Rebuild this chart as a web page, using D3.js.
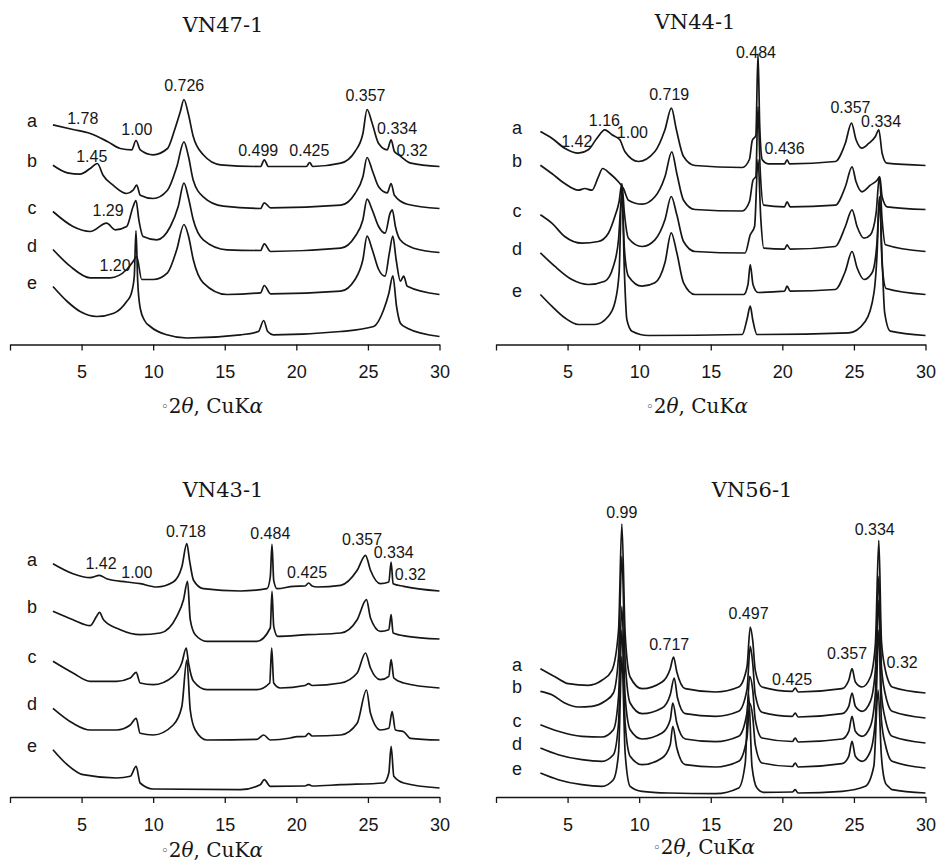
<!DOCTYPE html>
<html>
<head>
<meta charset="utf-8">
<script src="https://cdn.jsdelivr.net/npm/d3@7/dist/d3.min.js"></script>
<style>
  html, body { margin: 0; padding: 0; background: #fff; }
  svg { display: block; }
</style>
</head>
<body>
<svg id="chart" width="938" height="865"></svg>
<script>
// ---------------- DATA (2θ in degrees, intensity in arbitrary units above each trace's baseline) ----------------
const xTicks = [0, 5, 10, 15, 20, 25, 30];
const rowNames = ["a", "b", "c", "d", "e"];
const panelTitles = ["VN47-1", "VN44-1", "VN43-1", "VN56-1"];

// vertical offsets of traces a..e (stacking)
const offsets47 = [178, 136, 92, 50, 8];
const offsets44 = [179, 135, 93, 50, 9];
const offsets43 = [206, 158, 109, 57, 9];
const offsets56 = [104, 79, 54, 29, 4];

// ---- VN47-1 ----
const vn47_a = [[3.0,41.7],[4.4,37],[5.6,33],[6.8,25],[7.7,18],[8.5,16.7],[8.8,26],[9.1,16.7],[10.0,11.7],[11.0,18],[11.5,36.7],[11.9,55],[12.15,67],[12.45,53],[12.8,30],[13.5,11.7],[14.7,1.7],[17.5,0],[17.76,6.7],[18.05,0],[20.7,0],[20.93,4],[21.15,0],[23.1,3.3],[24.1,15],[24.65,33],[24.94,57],[25.3,43],[25.75,23],[26.35,16.7],[26.62,26.7],[26.85,15],[27.15,11.7],[28.0,3.3],[30,0]];
const vn47_b = [[3.0,43.3],[4.0,35.7],[4.9,34.3],[5.6,40],[6.1,45],[6.5,33.3],[7.2,23.3],[8.15,15],[8.6,18.3],[8.85,23.3],[9.1,13.3],[10.0,10],[11.0,18.3],[11.65,41.7],[12.15,66.7],[12.47,51.7],[12.8,28.3],[13.5,11.7],[14.9,2.3],[17.5,0],[17.76,5.7],[18.2,0.7],[23.1,3.3],[24.1,15],[24.65,31.7],[24.94,51],[25.3,38.3],[25.75,21.7],[26.35,15.7],[26.62,25],[26.85,13.3],[27.75,4.3],[30,0]];
const vn47_c = [[3.0,41],[4.4,26],[5.6,21],[6.75,29.3],[7.35,22.7],[8.15,26],[8.6,46],[8.8,52],[9.0,32.7],[9.3,16],[10.25,12.7],[11.2,26],[11.75,46],[12.15,69.3],[12.47,54.3],[12.8,32.7],[13.5,12.7],[15.15,2.7],[17.5,2],[17.76,8.7],[18.2,1],[23.1,4.3],[24.1,16],[24.65,32.7],[24.94,53.3],[25.3,42.7],[25.75,26],[26.2,19.3],[26.55,39.3],[26.7,42.7],[26.92,26],[27.25,12.7],[28.2,4.3],[30,0]];
const vn47_d = [[3.0,45],[4.2,28.3],[5.6,16.7],[7.0,16.7],[8.15,25],[8.6,33],[8.85,38],[9.2,15],[10.0,15],[11.0,21.7],[11.65,45],[12.15,70],[12.47,58.3],[12.8,35],[13.5,11.7],[15.15,0],[17.5,1.7],[17.76,9],[18.2,0.7],[23.1,3.3],[24.1,15],[24.65,35],[24.94,58.3],[25.3,45],[25.75,25],[26.2,18.3],[26.5,41.7],[26.74,58.3],[26.97,35],[27.27,13.3],[27.5,18.3],[27.75,8.3],[30,0]];
const vn47_e = [[3.0,50],[4.0,35],[4.9,25],[6.05,20],[7.25,23.3],[8.15,35],[8.45,42],[8.68,60],[8.8,106],[8.92,55],[9.1,28],[9.4,16],[9.8,10],[10.95,1.7],[12.35,-1.5],[16.1,1.7],[17.35,5],[17.72,16],[18.0,5],[18.4,1.7],[23.1,5],[25.4,10],[26.1,26.7],[26.46,43],[26.74,60.7],[27.0,30],[27.27,13.3],[27.75,8.3],[30,0]];

// ---- VN44-1 ----
const vn44_a = [[3.1,34],[3.9,27.3],[4.8,17.3],[5.75,12.3],[6.45,15.7],[7.05,27.3],[7.6,35.7],[8.1,30.7],[8.65,25.7],[9.0,14],[9.95,4],[11.1,14],[11.8,35.7],[12.25,57.3],[12.6,35.7],[13.1,9],[13.9,0],[17.2,-2],[17.7,6],[17.9,25],[18.15,30],[18.3,112],[18.42,40],[18.6,5.7],[19.0,1.7],[20.15,1.7],[20.33,5.7],[20.5,1.7],[23.7,4],[24.4,22.3],[24.83,42.3],[25.15,25.7],[25.55,17.3],[26.05,22.3],[26.5,29],[26.74,35.7],[26.97,12.3],[27.3,2.3],[30,0]];
const vn44_b = [[3.1,44.3],[3.9,36],[4.8,26],[5.75,19.3],[6.2,21],[6.7,19.3],[7.15,32.7],[7.45,41],[7.95,36],[8.55,27.7],[8.9,21],[9.25,9.3],[10.2,5.3],[11.1,12.7],[11.8,32.7],[12.28,57.7],[12.63,36],[13.1,9.3],[13.9,0],[17.2,-1.5],[17.7,7.7],[17.95,29.3],[18.15,33],[18.3,102.7],[18.45,40],[18.7,4.3],[20.15,2.7],[20.33,7.7],[20.55,2.7],[23.7,4.3],[24.4,22.7],[24.87,42.7],[25.15,27.7],[25.57,17.7],[26.15,24.3],[26.62,29.3],[26.81,32.7],[26.97,12.7],[27.32,2.7],[30,0]];
const vn44_c = [[3.1,36.7],[3.9,28.3],[4.8,15],[6.0,8.3],[7.15,10],[7.85,18.3],[8.3,35],[8.6,50],[8.79,68],[8.97,38],[9.25,13.3],[10.2,5],[11.1,11.7],[11.8,31.7],[12.24,55],[12.63,36.7],[13.1,10],[13.9,0],[17.4,-1.5],[17.76,16.7],[18.06,25],[18.3,92],[18.5,31.7],[18.7,3.3],[20.15,2.3],[20.33,6.7],[20.55,2.3],[23.7,5],[24.4,25],[24.87,41.7],[25.22,25],[25.7,13.3],[26.15,16.7],[26.55,38.3],[26.78,75],[26.97,31.7],[27.2,6.7],[30,0]];
const vn44_d = [[3.1,41.7],[4.1,28.3],[5.3,15],[6.45,10],[7.6,13.3],[8.2,28.3],[8.56,55],[8.79,100],[8.97,45],[9.25,18.3],[10.2,8.3],[11.1,11.7],[11.8,31.7],[12.24,61.7],[12.63,41.7],[13.1,11.7],[13.9,0],[17.3,0],[17.6,10],[17.76,30],[17.95,10],[18.3,2],[20.15,3.3],[20.33,8.3],[20.55,3.3],[23.7,5],[24.4,23.3],[24.87,43],[25.22,26.7],[25.7,15],[26.27,21.7],[26.6,50],[26.8,97],[26.97,30],[27.25,6],[30,0]];
const vn44_e = [[3.1,41],[3.9,29.3],[4.8,17.7],[5.75,11],[6.9,11],[7.85,19.3],[8.3,32.7],[8.6,62.7],[8.79,150],[8.97,62.7],[9.14,16],[9.5,4.3],[10.65,0],[17.2,1],[17.53,16],[17.76,29.3],[17.93,16],[18.23,1],[24.65,2.7],[25.8,14.3],[26.4,42.7],[26.62,82.7],[26.78,139],[26.97,76],[27.15,22.7],[27.55,4.3],[30,0]];

// ---- VN43-1 ----
const vn43_a = [[3.0,27.3],[4.4,17.3],[5.6,13.3],[6.25,15.7],[6.75,12.3],[8.15,9],[9.1,7.3],[10.25,4],[11.4,9],[12.0,24],[12.35,47.3],[12.54,30.7],[12.82,10.7],[13.5,2.3],[16.1,0],[17.95,2.3],[18.18,14],[18.3,46.7],[18.42,10.7],[18.65,2.3],[19.8,4.7],[20.6,5],[20.86,8],[21.1,5],[21.45,4],[23.1,5.7],[24.25,20.7],[24.83,35.7],[25.18,20.7],[25.87,7.3],[26.46,9],[26.62,29],[26.76,7.3],[27.5,4.7],[30,0]];
const vn43_b = [[3.0,27.7],[4.4,19.3],[5.6,13.3],[6.05,22.7],[6.25,26.7],[6.53,19.3],[7.7,9.3],[9.1,4.3],[10.5,6],[11.65,22.7],[12.12,39.3],[12.4,57.7],[12.59,19.3],[12.94,4.3],[13.75,-2.3],[17.25,-2.3],[18.18,11],[18.3,47.7],[18.42,12.7],[18.7,2.7],[20.75,4.3],[23.1,6],[24.25,19.3],[24.9,39.3],[25.18,21],[25.87,7.7],[26.46,9.3],[26.62,24.3],[26.76,6],[27.75,2.7],[30,0]];
const vn43_c = [[3.0,26.7],[4.4,15],[5.6,6.7],[7.45,6.7],[8.4,10],[8.81,15.7],[9.09,5],[10.0,3.3],[11.4,11.7],[12.0,25],[12.31,40],[12.47,25],[12.82,6.7],[13.75,-1.7],[17.25,-1.7],[18.14,5],[18.28,40],[18.42,5],[18.88,0],[20.6,2.5],[20.86,4.3],[21.1,2.5],[23.1,5],[24.25,15],[24.83,35],[25.18,20],[25.87,8.3],[26.46,11.7],[26.62,28.3],[26.81,10],[27.5,5],[30,0]];
const vn43_d = [[3.0,31.7],[4.4,16.7],[5.6,10],[7.45,10],[8.4,15],[8.81,21.7],[9.09,6.7],[10.0,5],[11.4,15],[12.0,33.3],[12.35,80],[12.59,30],[12.94,10],[13.75,0],[17.25,0.7],[17.72,5],[18.18,0],[19.6,2],[20.05,3.3],[20.6,3.5],[20.86,6.7],[21.1,4],[23.1,5],[24.25,16.7],[24.9,50],[25.18,26.7],[25.87,10],[26.46,11.7],[26.69,28.3],[26.92,10],[27.5,8.3],[27.97,1.7],[30,0]];
const vn43_e = [[3.0,38.3],[4.0,23.3],[5.1,13.3],[7.45,10],[8.4,11.7],[8.81,21.7],[9.09,5],[10.0,-1],[16.1,-1.7],[17.48,3.3],[17.76,8.3],[18.18,1.7],[20.6,2],[20.86,3.3],[21.1,2],[23.1,3.3],[26.1,5],[26.46,15],[26.62,41.7],[26.81,11.7],[27.5,5],[30,0]];

// ---- VN56-1 ----
const vn56_a = [[3.1,24.3],[4.15,16],[5.05,9.3],[6.45,7.7],[7.4,12.7],[8.1,22.7],[8.56,62.7],[8.79,169],[9.02,59.3],[9.37,16],[10.2,4.3],[11.6,11],[12.17,24.3],[12.4,36],[12.63,21],[13.22,4.3],[15.33,1],[16.95,6],[17.53,26],[17.76,66],[17.93,52.7],[18.11,22.7],[18.58,6],[20.7,1.7],[20.9,5],[21.1,1],[24.17,4.3],[24.64,12.7],[24.87,24.3],[25.1,11],[25.57,6],[26.15,16],[26.5,49.3],[26.74,152.7],[26.92,52.7],[27.2,22.7],[27.39,12.7],[27.67,6],[30,0]];
const vn56_b = [[3.1,26.7],[3.9,23.3],[4.8,15],[5.75,11],[6.7,11.7],[7.6,16.7],[8.2,25],[8.56,61.7],[8.79,161.7],[9.02,58.3],[9.37,15],[10.2,4.3],[11.6,10],[12.17,23.3],[12.45,40],[12.68,20],[13.22,4.3],[15.33,1.7],[16.95,6.7],[17.53,28.3],[17.76,71.7],[17.93,55],[18.11,23.3],[18.58,5.7],[20.7,1.7],[20.9,5],[21.1,1],[24.17,4.3],[24.64,11.7],[24.87,25],[25.1,11.7],[25.57,6.7],[26.15,16.7],[26.5,48.3],[26.74,141.7],[26.92,51.7],[27.2,23.3],[27.39,13.3],[27.67,6.7],[30,0]];
const vn56_c = [[3.1,18.3],[4.35,11.7],[6.0,6.7],[7.4,6],[8.2,13.3],[8.56,46.7],[8.79,136.7],[9.02,46.7],[9.37,13.3],[10.2,4],[11.6,10],[12.17,23.3],[12.35,40],[12.63,20],[13.22,4],[15.33,1.3],[16.95,6.7],[17.53,30],[17.72,66.7],[17.93,53.3],[18.11,23.3],[18.58,5],[20.7,1.5],[20.9,5],[21.1,1],[24.17,4],[24.64,11.7],[24.87,26.7],[25.1,11.7],[25.57,6.7],[26.15,16.7],[26.5,50],[26.74,143],[26.92,50],[27.2,23.3],[27.39,13.3],[27.67,6.7],[30,0]];
const vn56_d = [[3.1,20],[4.35,13.3],[6.0,8.3],[7.4,6.7],[8.2,13.3],[8.56,45],[8.79,138],[9.02,45],[9.37,11.7],[10.2,3.3],[11.6,10],[12.17,23.3],[12.35,41.7],[12.63,20],[13.22,3.3],[15.33,1],[16.95,6.7],[17.53,30],[17.72,65],[17.93,51.7],[18.11,23.3],[18.58,5],[20.7,1.5],[20.9,5],[21.1,1],[24.17,4.3],[24.64,11.7],[24.87,26.7],[25.1,11.7],[25.57,6.7],[26.15,16.7],[26.5,48.3],[26.74,138],[26.92,48.3],[27.2,23.3],[27.39,13.3],[27.67,6.7],[30,0]];
const vn56_e = [[3.1,20],[4.35,13.3],[6.0,8.3],[7.4,6.7],[8.2,13.3],[8.56,40],[8.79,136.7],[9.02,40],[9.37,6.7],[10.2,1.7],[12.05,0],[15.33,-0.7],[16.95,5],[17.41,30],[17.64,100],[17.88,26.7],[18.23,5],[18.7,0.7],[20.7,1],[20.9,3.3],[21.1,0],[24.17,1.7],[25.8,6.7],[26.39,26.7],[26.69,103],[26.92,36.7],[27.2,10],[27.39,6.7],[27.67,3.3],[30,0]];

// peak annotations: [text, 2θ, height above axis]
const labels47 = [["0.726",12.17,259.5],["0.357",24.83,249.5],["1.78",5.08,226.2],["1.00",8.86,215.2],["0.334",27.04,216.2],["0.499",17.34,194.5],["0.425",20.91,194.5],["0.32",28.09,194.5],["1.45",5.71,187.8],["1.29",6.85,134.5],["1.20",7.34,79.5]];
const labels44 = [["0.484",18.16,292.2],["0.719",12.1,250.5],["0.357",24.76,237.2],["0.334",26.9,223.5],["1.16",7.57,224.5],["1.00",9.53,212.2],["1.42",5.64,202.8],["0.436",20.16,196.2]];
const labels43 = [["0.718",12.29,266],["0.484",18.18,263.7],["0.357",24.59,257.7],["0.334",26.8,244.3],["1.42",6.36,233.7],["1.00",8.86,224.3],["0.425",20.75,224.3],["0.32",27.97,223]];
const labels56 = [["0.99",8.79,284.3],["0.334",26.45,267.7],["0.497",17.64,183.7],["0.717",12.1,153],["0.357",24.52,143.7],["0.32",28.37,134.3],["0.425",20.68,117.7]];

// ---------------- LAYOUT ----------------
const panels = [
  { title: panelTitles[0], traces: [vn47_a, vn47_b, vn47_c, vn47_d, vn47_e], offsets: offsets47, labels: labels47,
    x0: 10, axisY: 344.5, tx: 223, ty: 25, ax: 212, ay: 406, rowX: 32 },
  { title: panelTitles[1], traces: [vn44_a, vn44_b, vn44_c, vn44_d, vn44_e], offsets: offsets44, labels: labels44,
    x0: 496, axisY: 344.5, tx: 695, ty: 22, ax: 697, ay: 406, rowX: 517 },
  { title: panelTitles[2], traces: [vn43_a, vn43_b, vn43_c, vn43_d, vn43_e], offsets: offsets43, labels: labels43,
    x0: 10, axisY: 797, tx: 223, ty: 490, ax: 212, ay: 850, rowX: 32 },
  { title: panelTitles[3], traces: [vn56_a, vn56_b, vn56_c, vn56_d, vn56_e], offsets: offsets56, labels: labels56,
    x0: 496, axisY: 797, tx: 752, ty: 490, ax: 704, ay: 847, rowX: 517 }
];

const svg = d3.select("#chart");
const sans = "'Liberation Sans', Arial, sans-serif";
const serif = "'DejaVu Serif', 'Liberation Serif', serif";
const ink = "#161616";

panels.forEach(p => {
  const g = svg.append("g");
  const x = d3.scaleLinear().domain([0, 30]).range([p.x0, p.x0 + 429.5]);
  const y = d3.scaleLinear().domain([0, 300]).range([p.axisY, p.axisY - 300]);

  // traces
  p.traces.forEach((tr, i) => {
    const off = p.offsets[i];
    const line = d3.line()
      .x(d => x(d[0]))
      .y(d => y(d[1] + off))
      .curve(d3.curveMonotoneX);
    g.append("path")
      .datum(tr)
      .attr("d", line)
      .attr("fill", "none")
      .attr("stroke", ink)
      .attr("stroke-width", 1.7)
      .attr("stroke-linejoin", "round");

    // row label a..e, placed next to the start of the trace
    g.append("text")
      .attr("x", p.rowX)
      .attr("y", y(tr[0][1] + off) - 4)
      .attr("text-anchor", "middle")
      .attr("dominant-baseline", "central")
      .attr("font-family", sans)
      .attr("font-size", 18)
      .attr("fill", ink)
      .text(rowNames[i]);
  });

  // axis
  const axis = d3.axisBottom(x)
    .tickValues(xTicks)
    .tickSize(6)
    .tickSizeOuter(0)
    .tickPadding(15)
    .tickFormat(d => d === 0 ? "" : d);
  const ag = g.append("g").attr("transform", `translate(0,${p.axisY})`).call(axis);
  ag.select(".domain").attr("stroke", ink).attr("stroke-width", 1.6);
  ag.selectAll(".tick line").attr("stroke", ink).attr("stroke-width", 1.3);
  ag.selectAll(".tick text").attr("font-family", sans).attr("font-size", 18).attr("fill", ink);

  // peak labels
  p.labels.forEach(l => {
    g.append("text")
      .attr("x", x(l[1]))
      .attr("y", y(l[2]))
      .attr("text-anchor", "middle")
      .attr("dominant-baseline", "central")
      .attr("font-family", sans)
      .attr("font-size", 16)
      .attr("fill", ink)
      .text(l[0]);
  });

  // title
  g.append("text")
    .attr("x", p.tx).attr("y", p.ty)
    .attr("text-anchor", "middle")
    .attr("dominant-baseline", "central")
    .attr("font-family", serif)
    .attr("font-size", 21)
    .attr("fill", ink)
    .text(p.title);

  // axis title
  const at = g.append("text")
    .attr("x", p.ax).attr("y", p.ay)
    .attr("text-anchor", "middle")
    .attr("dominant-baseline", "central")
    .attr("font-family", serif)
    .attr("font-size", 20)
    .attr("fill", ink);
  at.append("tspan").attr("font-size", 13).text("\u25E6");
  at.append("tspan").text("2");
  at.append("tspan").attr("font-style", "italic").text("\u03B8");
  at.append("tspan").text(", CuK");
  at.append("tspan").attr("font-style", "italic").text("\u03B1");
});
</script>
</body>
</html>
